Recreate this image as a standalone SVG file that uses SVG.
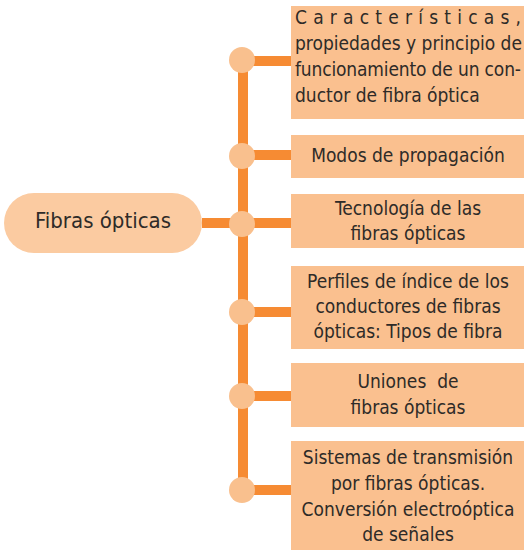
<svg xmlns="http://www.w3.org/2000/svg" width="524" height="550" viewBox="0 0 524 550">
<style>
.box{fill:#FAC08F}
.pill{fill:#FBCBA1}
.dot{fill:#F9C08E}
.ln{stroke:#F68B33;stroke-width:10;fill:none}
text{font-family:"Liberation Sans Narrow","DejaVu Sans Condensed","Liberation Sans",sans-serif;font-size:19px;fill:#2E2B28}
.c{text-anchor:middle}
</style>
<rect width="524" height="550" fill="#FFFFFF"/>
<g id="connectors">
<path class="ln" d="M243 60V490"/>
<path class="ln" d="M202 223H291"/>
<path class="ln" d="M243 61H291"/>
<path class="ln" d="M243 155H291"/>
<path class="ln" d="M243 312H291"/>
<path class="ln" d="M243 396H291"/>
<path class="ln" d="M243 490H291"/>
<circle class="dot" cx="242" cy="60" r="13"/>
<circle class="dot" cx="242" cy="156" r="13"/>
<circle class="dot" cx="242" cy="224" r="13"/>
<circle class="dot" cx="242" cy="312" r="13"/>
<circle class="dot" cx="242" cy="396" r="13"/>
<circle class="dot" cx="242" cy="490" r="13"/>
</g>
<g id="root">
<rect class="pill" x="4" y="193" width="198" height="60" rx="30"/>
<text x="103" y="228" class="c" style="font-size:22px">Fibras ópticas</text>
</g>
<g id="n1">
<rect class="box" x="291" y="6" width="233" height="113"/>
<text x="295" y="24" textLength="226" lengthAdjust="spacing">Características,</text>
<text x="295" y="50" textLength="227" lengthAdjust="spacing">propiedades y principio de</text>
<text x="295" y="76" textLength="226" lengthAdjust="spacing">funcionamiento de un con-</text>
<text x="295" y="102">ductor de fibra óptica</text>
</g>
<g id="n2">
<rect class="box" x="291" y="135" width="233" height="43"/>
<text x="408" y="162" class="c">Modos de propagación</text>
</g>
<g id="n3">
<rect class="box" x="291" y="194" width="233" height="54"/>
<text x="408" y="215" class="c">Tecnología de las</text>
<text x="408" y="240" class="c">fibras ópticas</text>
</g>
<g id="n4">
<rect class="box" x="291" y="266" width="233" height="83"/>
<text x="408" y="288" class="c">Perfiles de índice de los</text>
<text x="408" y="313" class="c">conductores de fibras</text>
<text x="408" y="338" class="c">ópticas: Tipos de fibra</text>
</g>
<g id="n5">
<rect class="box" x="291" y="363" width="233" height="64"/>
<text x="408" y="388" class="c" xml:space="preserve">Uniones  de</text>
<text x="408" y="414" class="c">fibras ópticas</text>
</g>
<g id="n6">
<rect class="box" x="291" y="441" width="233" height="109"/>
<text x="408" y="464" class="c">Sistemas de transmisión</text>
<text x="408" y="490" class="c">por fibras ópticas.</text>
<text x="408" y="516" class="c">Conversión electroóptica</text>
<text x="408" y="541" class="c">de señales</text>
</g>
</svg>
